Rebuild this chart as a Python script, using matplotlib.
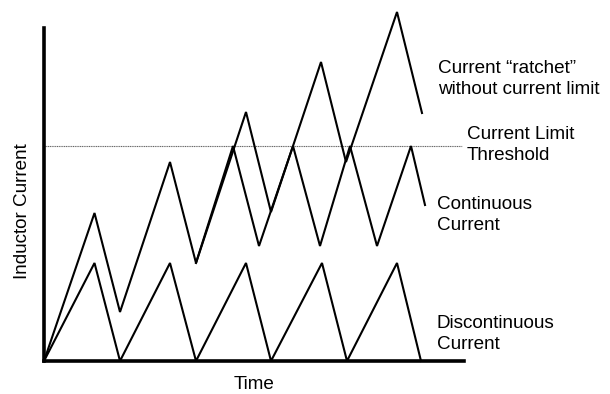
import matplotlib.pyplot as plt

plt.rcParams["font.family"] = ["Liberation Sans", "DejaVu Sans"]

# waveform corners (time, current in arbitrary units)
disc_t = [0, 5.05, 7.6, 12.6, 15.2, 20.2, 22.7, 27.8, 30.3, 35.3, 37.7]
disc_i = [0, 9.8, 0, 9.8, 0, 9.8, 0, 9.8, 0, 9.8, 0]

cont_t = [0, 5.05, 7.6, 12.6, 15.2, 18.9, 21.5, 24.9, 27.6, 30.6, 33.3, 36.7, 38.1]
cont_i = [0, 14.8, 4.9, 19.9, 9.8, 21.5, 11.5, 21.5, 11.5, 21.5, 11.5, 21.5, 15.6]

ratchet_t = [15.2, 20.2, 22.7, 27.7, 30.2, 35.3, 37.8]
ratchet_i = [9.8, 24.9, 14.9, 29.9, 19.9, 34.9, 24.8]

limit = 21.5
limit_end = 41.8

labels = {
    "Current \u201cratchet\u201d\nwithout current limit": (39.4, 30.1),
    "Current Limit\nThreshold": (42.3, 23.5),
    "Continuous\nCurrent": (39.3, 16.5),
    "Discontinuous\nCurrent": (39.3, 4.6),
}

fig = plt.figure(figsize=(6.1, 3.94), dpi=100)
ax = fig.add_axes([44 / 610, 33 / 394, 420 / 610, 333 / 394])

ax.hlines(limit, 0, limit_end, colors="#666666", linewidth=0.8,
          linestyles=(0, (1, 0.6)), clip_on=False)
for t, i in [(disc_t, disc_i), (cont_t, cont_i), (ratchet_t, ratchet_i)]:
    ax.plot(t, i, color="black", linewidth=1.5, clip_on=False,
            solid_joinstyle="miter")

for txt, (x, y) in labels.items():
    ax.text(x, y, txt, fontsize=13.6, va="top", ha="left", linespacing=1.3)

ax.set_xlim(0, 42)
ax.set_ylim(0, 33.3)
for s in ["top", "right"]:
    ax.spines[s].set_visible(False)
for s in ["left", "bottom"]:
    ax.spines[s].set_linewidth(2.6)
ax.set_xticks([])
ax.set_yticks([])
ax.set_xlabel("Time", fontsize=13.6, labelpad=11)
ax.set_ylabel("Inductor Current", fontsize=13.6)
ax.yaxis.set_label_coords(-0.031, 0.45)

fig.savefig("out.png", dpi=100)
